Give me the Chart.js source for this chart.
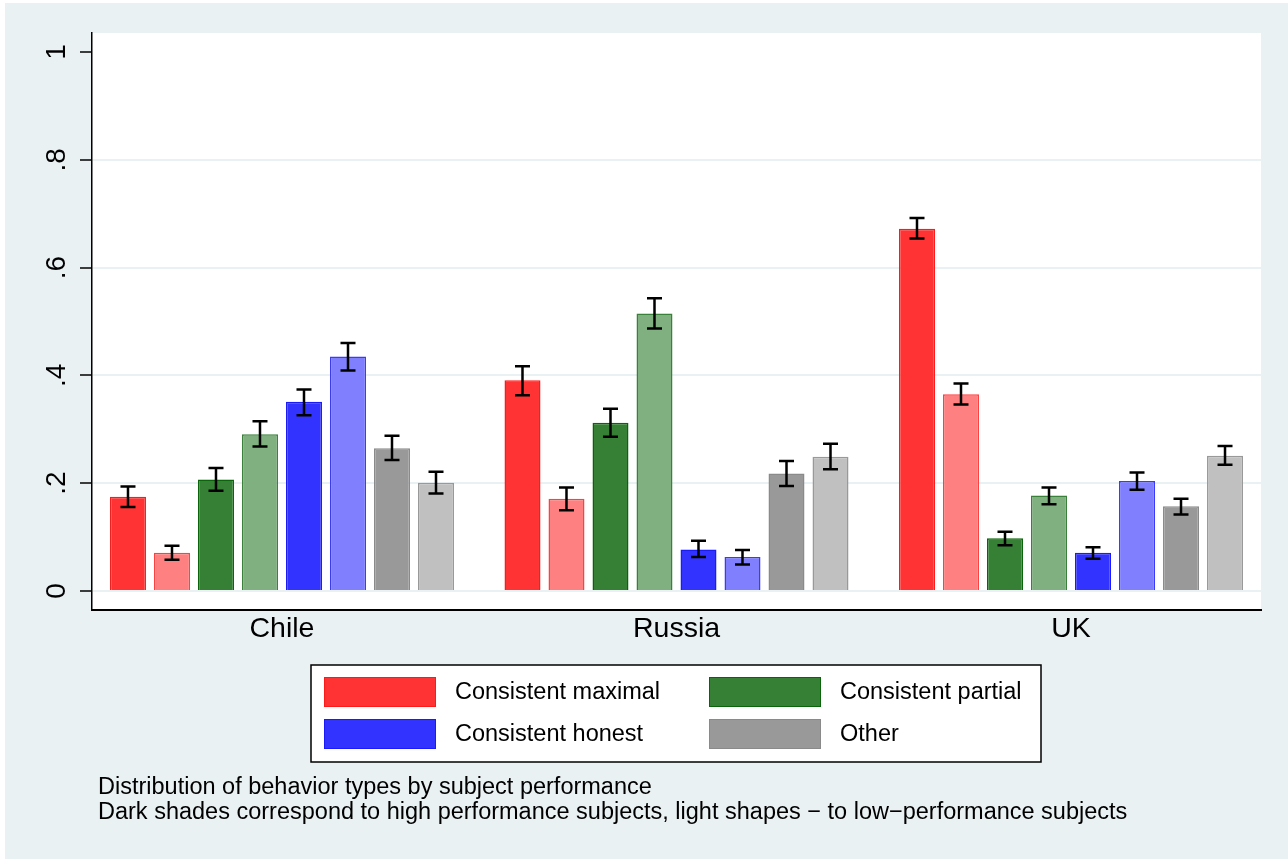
<!DOCTYPE html>
<html>
<head>
<meta charset="utf-8">
<title>Behavior types by subject performance</title>
<script src="https://cdn.jsdelivr.net/npm/chart.js@4.4.1/dist/chart.umd.min.js"></script>
<style>
  html, body { margin: 0; padding: 0; background: #ffffff; }
  #wrap { position: relative; width: 1288px; height: 859px; }
</style>
</head>
<body>
<div id="wrap"><canvas id="chart_behaviorTypes"></canvas></div>
<script>
// categories and tick labels
const countries = ['Chile', 'Russia', 'UK'];
const typeNames = ['Consistent maximal', 'Consistent partial', 'Consistent honest', 'Other'];
const yTickValues = [0, 0.2, 0.4, 0.6, 0.8, 1];
const yTickLabels = ['0', '.2', '.4', '.6', '.8', '1'];
const notes = [
  'Distribution of behavior types by subject performance',
  'Dark shades correspond to high performance subjects, light shapes \u2212 to low\u2212performance subjects'
];

// shares by country (Chile, Russia, UK); High = dark shade, Low = light shade
const maximalHigh = [0.175, 0.391, 0.672];
const maximalLow  = [0.071, 0.171, 0.365];
const partialHigh = [0.207, 0.312, 0.098];
const partialLow  = [0.291, 0.515, 0.177];
const honestHigh  = [0.351, 0.077, 0.071];
const honestLow   = [0.435, 0.063, 0.204];
const otherHigh   = [0.265, 0.218, 0.157];
const otherLow    = [0.201, 0.249, 0.251];

// confidence intervals [low, high]
const maximalHighCI = [[0.156, 0.194], [0.363, 0.417], [0.654, 0.692]];
const maximalLowCI  = [[0.058, 0.084], [0.150, 0.192], [0.346, 0.385]];
const partialHighCI = [[0.186, 0.228], [0.286, 0.338], [0.085, 0.110]];
const partialLowCI  = [[0.268, 0.315], [0.487, 0.543], [0.161, 0.192]];
const honestHighCI  = [[0.326, 0.374], [0.063, 0.093], [0.060, 0.081]];
const honestLowCI   = [[0.409, 0.460], [0.049, 0.076], [0.188, 0.220]];
const otherHighCI   = [[0.243, 0.288], [0.195, 0.241], [0.142, 0.171]];
const otherLowCI    = [[0.181, 0.221], [0.226, 0.273], [0.234, 0.269]];

const seriesValues = [maximalHigh, maximalLow, partialHigh, partialLow, honestHigh, honestLow, otherHigh, otherLow];
const seriesCI = [maximalHighCI, maximalLowCI, partialHighCI, partialLowCI, honestHighCI, honestLowCI, otherHighCI, otherLowCI];
const fillColors = ['#ff3333', '#ff8080', '#358035', '#80b080', '#3333ff', '#8080ff', '#999999', '#c0c0c0'];
const lineColors = ['#ff1a1a', '#ff4040', '#0a640a', '#3a803a', '#1a1aff', '#3a3aff', '#8a8a8a', '#999999'];

const BG = '#eaf1f3';

const datasets = seriesValues.map((vals, i) => ({
  label: typeNames[Math.floor(i / 2)] + (i % 2 === 0 ? ' (high)' : ' (low)'),
  data: vals.map((v, j) => ({ x: j, y: v })),
  backgroundColor: fillColors[i],
  borderColor: lineColors[i],
  borderWidth: 1.5,
  categoryPercentage: 0.8923,
  barPercentage: 0.818,
  grouped: true
}));

const backgroundPlugin = {
  id: 'stataBackground',
  beforeDraw: (chart) => {
    const ctx = chart.ctx;
    const a = chart.chartArea;
    ctx.save();
    ctx.fillStyle = '#ffffff';
    ctx.fillRect(0, 0, chart.width, chart.height);
    ctx.fillStyle = BG;
    ctx.fillRect(5, 3, chart.width - 5, chart.height - 3);
    ctx.fillStyle = '#ffffff';
    ctx.fillRect(a.left, a.top, a.right - a.left, a.bottom - a.top);
    ctx.restore();
  }
};

const errorBarPlugin = {
  id: 'errorBars',
  afterDatasetsDraw: (chart) => {
    const ctx = chart.ctx;
    const yScale = chart.scales.y;
    ctx.save();
    ctx.strokeStyle = '#000000';
    ctx.lineWidth = 2.5;
    chart.data.datasets.forEach((ds, i) => {
      const meta = chart.getDatasetMeta(i);
      meta.data.forEach((bar, j) => {
        const ci = seriesCI[i][j];
        const yLo = yScale.getPixelForValue(ci[0]);
        const yHi = yScale.getPixelForValue(ci[1]);
        const half = 7.5;
        ctx.beginPath();
        ctx.moveTo(bar.x, yLo); ctx.lineTo(bar.x, yHi);
        ctx.moveTo(bar.x - half, yLo); ctx.lineTo(bar.x + half, yLo);
        ctx.moveTo(bar.x - half, yHi); ctx.lineTo(bar.x + half, yHi);
        ctx.stroke();
      });
    });
    ctx.restore();
  }
};

const legendNotesPlugin = {
  id: 'legendAndNotes',
  afterDraw: (chart) => {
    const ctx = chart.ctx;
    ctx.save();
    // legend box
    ctx.fillStyle = '#ffffff';
    ctx.fillRect(311, 665, 730, 97);
    ctx.strokeStyle = '#000000';
    ctx.lineWidth = 1.5;
    ctx.strokeRect(311, 665, 730, 97);
    const cols = [324, 709];
    const rows = [677, 719];
    ctx.font = '23.5px "Liberation Sans", Arial, sans-serif';
    ctx.textBaseline = 'middle';
    ctx.textAlign = 'left';
    typeNames.forEach((name, k) => {
      const cx = cols[k % 2];
      const cy = rows[Math.floor(k / 2)];
      const ds = chart.data.datasets[k * 2];
      ctx.fillStyle = ds.backgroundColor;
      ctx.fillRect(cx, cy, 112, 30);
      ctx.strokeStyle = ds.borderColor;
      ctx.lineWidth = 1;
      ctx.strokeRect(cx + 0.5, cy + 0.5, 111, 29);
      ctx.fillStyle = '#000000';
      ctx.fillText(name, cx + 131, cy + 16);
    });
    // notes
    ctx.font = '23.5px "Liberation Sans", Arial, sans-serif';
    ctx.textBaseline = 'alphabetic';
    notes.forEach((line, k) => {
      ctx.fillText(line, 98, 794 + k * 25);
    });
    ctx.restore();
  }
};

const chart_behaviorTypes = new Chart(document.getElementById('chart_behaviorTypes'), {
  type: 'bar',
  data: { datasets: datasets },
  options: {
    animation: false,
    responsive: true,
    maintainAspectRatio: false,
    layout: { padding: { left: 0, top: 33, right: 27, bottom: 0 } },
    plugins: {
      legend: { display: false },
      tooltip: { enabled: false },
      title: { display: false }
    },
    scales: {
      x: {
        type: 'linear',
        min: -0.4816,
        max: 2.4816,
        offset: false,
        afterBuildTicks: (s) => { s.ticks = countries.map((c, i) => ({ value: i })); },
        afterFit: (s) => { s.height = 249; },
        ticks: {
          callback: (v) => countries[v],
          color: '#000000',
          font: { family: '"Liberation Sans", Arial, sans-serif', size: 28.5 },
          padding: 2,
          maxRotation: 0,
          autoSkip: false
        },
        grid: { display: false, drawTicks: false },
        border: { display: true, color: '#000000', width: 2 }
      },
      y: {
        type: 'linear',
        min: -0.0353,
        max: 1.0353,
        afterBuildTicks: (s) => { s.ticks = yTickValues.map(v => ({ value: v })); },
        afterFit: (s) => { s.width = 92; },
        ticks: {
          callback: (v) => yTickLabels[yTickValues.indexOf(v)],
          color: '#000000',
          font: { family: '"Liberation Sans", Arial, sans-serif', size: 28 },
          minRotation: 90,
          maxRotation: 90,
          crossAlign: 'center',
          padding: 11
        },
        grid: {
          color: (c) => (c.tick && c.tick.value === 1 ? 'rgba(0,0,0,0)' : BG),
          lineWidth: 2,
          tickColor: '#000000',
          tickLength: 12,
          tickWidth: 1.5
        },
        border: { display: true, color: '#000000', width: 1.5 }
      }
    }
  },
  plugins: [backgroundPlugin, errorBarPlugin, legendNotesPlugin]
});
</script>
</body>
</html>
